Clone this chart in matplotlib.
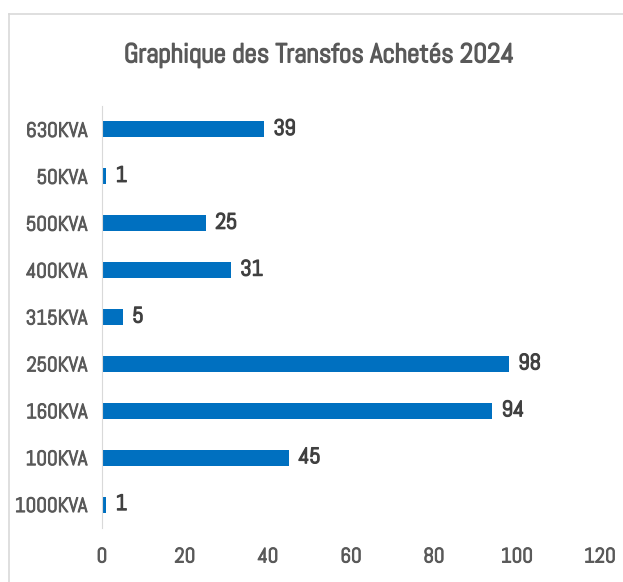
import matplotlib
matplotlib.use("Agg")
import matplotlib.pyplot as plt
import matplotlib.patheffects as pe
from matplotlib.lines import Line2D

categories = ["1000KVA", "100KVA", "160KVA", "250KVA", "315KVA",
              "400KVA", "500KVA", "50KVA", "630KVA"]
counts = [1, 45, 94, 98, 5, 31, 25, 1, 39]
xticks = [0, 20, 40, 60, 80, 100, 120]

# narrow geometric face, close to the condensed look of the original
plt.rcParams["font.family"] = ["Abel", "DejaVu Sans"]


def heavy(color, w=0.7):
    # Abel only ships one weight, so thicken it with a thin stroke
    return [pe.withStroke(linewidth=w, foreground=color)]


fig = plt.figure(figsize=(6.23, 5.82), dpi=100)
ax = fig.add_axes([0.1637, 0.0928, 0.7993, 0.7251])

bars = ax.barh(range(len(categories)), counts, height=0.34, color="#0070c0")
for b, v in zip(bars, counts):
    ax.text(b.get_width() + 2.3, b.get_y() + b.get_height() / 2, str(v),
            va="center", ha="left", fontsize=16, color="#404040",
            path_effects=heavy("#404040", 0.9))

ax.set_yticks(range(len(categories)))
ax.set_yticklabels(categories)
ax.set_xticks(xticks)
ax.set_xlim(0, 120)
ax.set_ylim(-0.5, len(categories) - 0.5)
ax.tick_params(axis="both", length=0, labelsize=15, colors="#595959")
ax.tick_params(axis="y", pad=10.5)
ax.tick_params(axis="x", pad=14)
for lbl in ax.get_xticklabels() + ax.get_yticklabels():
    lbl.set_path_effects(heavy("#595959"))
for s in ["top", "right", "bottom"]:
    ax.spines[s].set_visible(False)
ax.spines["left"].set_color("#d9d9d9")

fig.text(0.512, 0.905, "Graphique des Transfos Achetés 2024", ha="center",
         va="center", fontsize=19.5, color="#595959",
         path_effects=heavy("#595959", 1.0))

# outer chart frame
fig.add_artist(Line2D([9 / 623, 1], [1 - 14 / 582] * 2, color="#d9d9d9", lw=1.2))
fig.add_artist(Line2D([9 / 623] * 2, [0, 1 - 14 / 582], color="#d9d9d9", lw=1.2))

fig.savefig("out.png", dpi=100)
